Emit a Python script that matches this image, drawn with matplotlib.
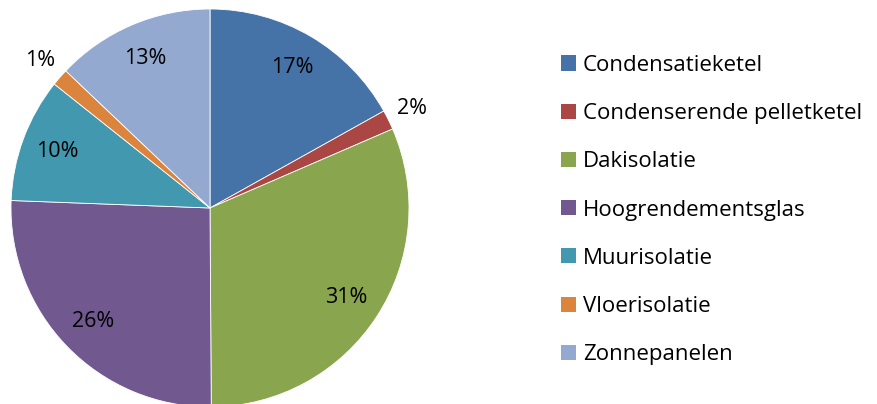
import matplotlib
matplotlib.use("Agg")
import matplotlib.pyplot as plt
import numpy as np

categories = ["Condensatieketel", "Condenserende pelletketel", "Dakisolatie",
              "Hoogrendementsglas", "Muurisolatie", "Vloerisolatie", "Zonnepanelen"]
values = [16.9, 1.6, 31.4, 25.7, 10.1, 1.4, 12.9]
colors = ["#4572A7", "#AA4643", "#89A54E", "#71588F", "#4198AF", "#DB843D", "#93A9CF"]

plt.rcParams['font.family'] = ['Open Sans', 'DejaVu Sans']

W, H = 877, 404
fig = plt.figure(figsize=(W / 100, H / 100), dpi=100)
cx, cy, r = 210, 208, 199
ax = fig.add_axes([(cx - r) / W, (H - cy - r) / H, 2 * r / W, 2 * r / H])
wedges, _ = ax.pie(values, colors=colors, startangle=90, counterclock=False,
                   radius=1, wedgeprops=dict(edgecolor="white", linewidth=0.6))
ax.set_xlim(-1, 1)
ax.set_ylim(-1, 1)
ax.set_aspect("auto")
ax.axis("off")

total = sum(values)
for w, v in zip(wedges, values):
    mid = np.deg2rad((w.theta1 + w.theta2) / 2)
    d = 0.82 if v / total > 0.05 else 1.13
    ax.text(d * np.cos(mid), d * np.sin(mid), f"{round(v / total * 100):d}%",
            ha="center", va="center", fontsize=15.5, color="black", clip_on=False)

# legend
y0, dy = 63, 48.2
for i, (c, lab) in enumerate(zip(colors, categories)):
    yc = y0 + i * dy
    fig.patches.append(plt.Rectangle((561 / W, (H - yc - 7.5) / H), 15 / W, 15 / H,
                                     transform=fig.transFigure, facecolor=c,
                                     edgecolor="none"))
    fig.text(583 / W, (H - yc) / H, lab, ha="left", va="center_baseline",
             fontsize=16, color="black")

fig.savefig("out.png", dpi=100)
